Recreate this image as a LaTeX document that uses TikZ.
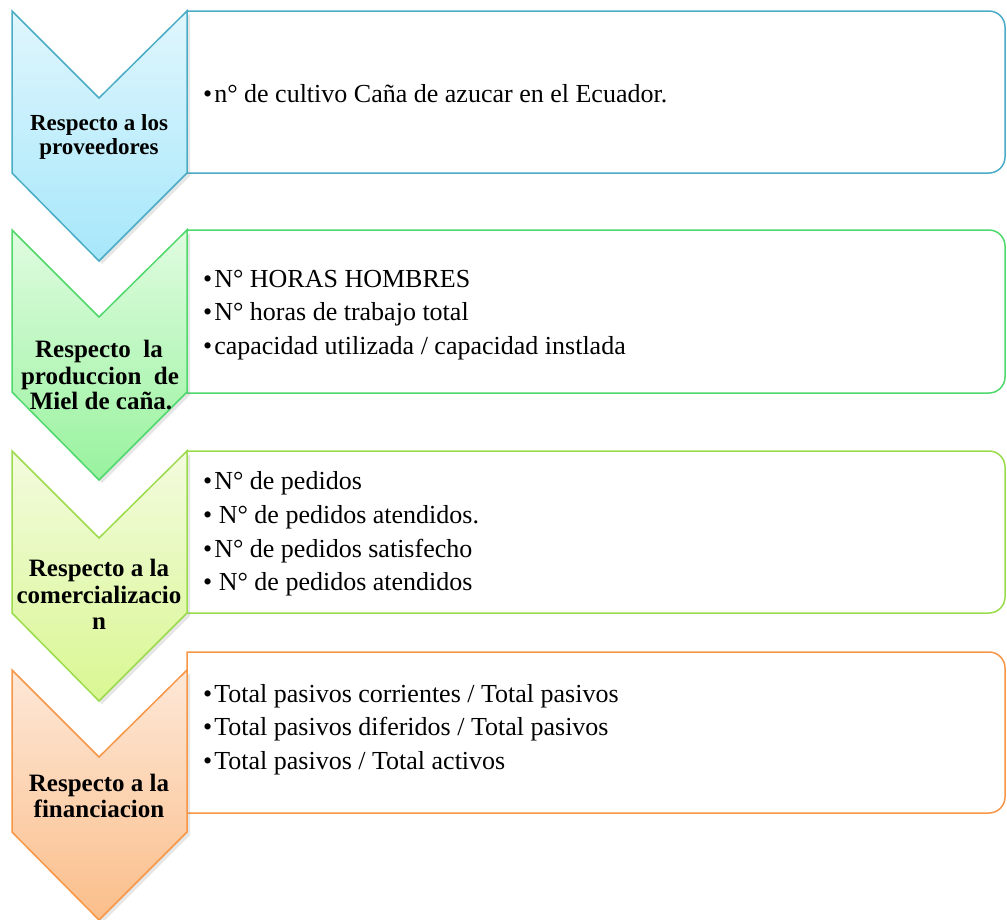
\documentclass[tikz,border=0pt]{standalone}
\usepackage{fontspec}
\setmainfont{Liberation Serif}
\usetikzlibrary{shadows}
\definecolor{bluebd}{HTML}{4BACC6}
\definecolor{bluetop}{HTML}{E0F6FD}
\definecolor{bluebot}{HTML}{A6E7FA}
\definecolor{greenbd}{HTML}{4FD86B}
\definecolor{greentop}{HTML}{E0FCE0}
\definecolor{greenbot}{HTML}{98F29E}
\definecolor{limebd}{HTML}{9BDC4C}
\definecolor{limetop}{HTML}{F3FBDE}
\definecolor{limebot}{HTML}{D9F792}
\definecolor{orangebd}{HTML}{F79646}
\definecolor{orangetop}{HTML}{FDE8D8}
\definecolor{orangebot}{HTML}{FBBE8A}
\tikzset{
  chev/.style={line width=1.5pt, line join=miter,
    drop shadow={opacity=0.2, shadow xshift=3pt, shadow yshift=-3pt}},
  infobox/.style={line width=1.5pt, fill=white},
  clabel/.style={font=\fontsize{25}{27}\selectfont\bfseries, inner sep=0pt, anchor=base},
  item/.style={font=\fontsize{26}{34}\selectfont, inner sep=0pt, anchor=base west},
}
\newcommand{\infoboxpath}[2]{%
  (187,#1) -- (989,#1) .. controls (997.8,#1) and (1005,#1+7.2) .. (1005,#1+16)
  -- (1005,#2-16) .. controls (1005,#2-7.2) and (997.8,#2) .. (989,#2) -- (187,#2) -- cycle}
\newcommand{\chevpath}[1]{%
  (12,#1) -- (99,#1+87) -- (187,#1) -- (187,#1+162) -- (99,#1+250) -- (12,#1+162) -- cycle}
\begin{document}
\begin{tikzpicture}[x=1pt,y=-1pt]
\useasboundingbox (0,0) rectangle (1007,919);

% boxes
\draw[infobox, draw=bluebd] \infoboxpath{11}{173};
\draw[infobox, draw=greenbd] \infoboxpath{230}{393};
\draw[infobox, draw=limebd] \infoboxpath{451}{613};
\draw[infobox, draw=orangebd] \infoboxpath{652}{813};

% chevrons
\draw[chev, draw=bluebd, top color=bluetop, bottom color=bluebot] \chevpath{11};
\draw[chev, draw=greenbd, top color=greentop, bottom color=greenbot] \chevpath{230};
\draw[chev, draw=limebd, top color=limetop, bottom color=limebot] \chevpath{451};
\draw[chev, draw=orangebd, top color=orangetop, bottom color=orangebot] \chevpath{670};

% chevron labels
\node[clabel, font=\fontsize{23}{25}\selectfont\bfseries] (c1a) at (99,130) {Respecto a los};
\node[clabel, font=\fontsize{23}{25}\selectfont\bfseries] (c1b) at (99,154) {proveedores};

\node[clabel] (c2a) at (99,357) {Respecto\ \ la};
\node[clabel] (c2b) at (100,384) {produccion\ \ de};
\node[clabel] (c2c) at (101,409) {Miel de caña.};

\node[clabel] (c3a) at (99,576) {Respecto a la};
\node[clabel] (c3b) at (99,603) {comercializacio};
\node[clabel] (c3c) at (99,629) {n};

\node[clabel] (c4a) at (99,791) {Respecto a la};
\node[clabel] (c4b) at (99,817) {financiacion};

% box items
\node[item] (b1a) at (203,102) {•\kern2pt n° de cultivo Caña de azucar en el Ecuador.};

\node[item] (b2a) at (203,287) {•\kern2pt N° HORAS HOMBRES};
\node[item] (b2b) at (203,320.5) {•\kern2pt N° horas de trabajo total};
\node[item] (b2c) at (203,354) {•\kern2pt capacidad utilizada / capacidad instlada};

\node[item] (b3a) at (203,489) {•\kern2pt N° de pedidos};
\node[item] (b3b) at (203,523) {• N° de pedidos atendidos.};
\node[item] (b3c) at (203,557) {•\kern2pt N° de pedidos satisfecho};
\node[item] (b3d) at (203,590) {• N° de pedidos atendidos};

\node[item] (b4a) at (203,702) {•\kern2pt Total pasivos corrientes / Total pasivos};
\node[item] (b4b) at (203,735.5) {•\kern2pt Total pasivos diferidos / Total pasivos};
\node[item] (b4c) at (203,769) {•\kern2pt Total pasivos / Total activos};
\end{tikzpicture}
\end{document}
